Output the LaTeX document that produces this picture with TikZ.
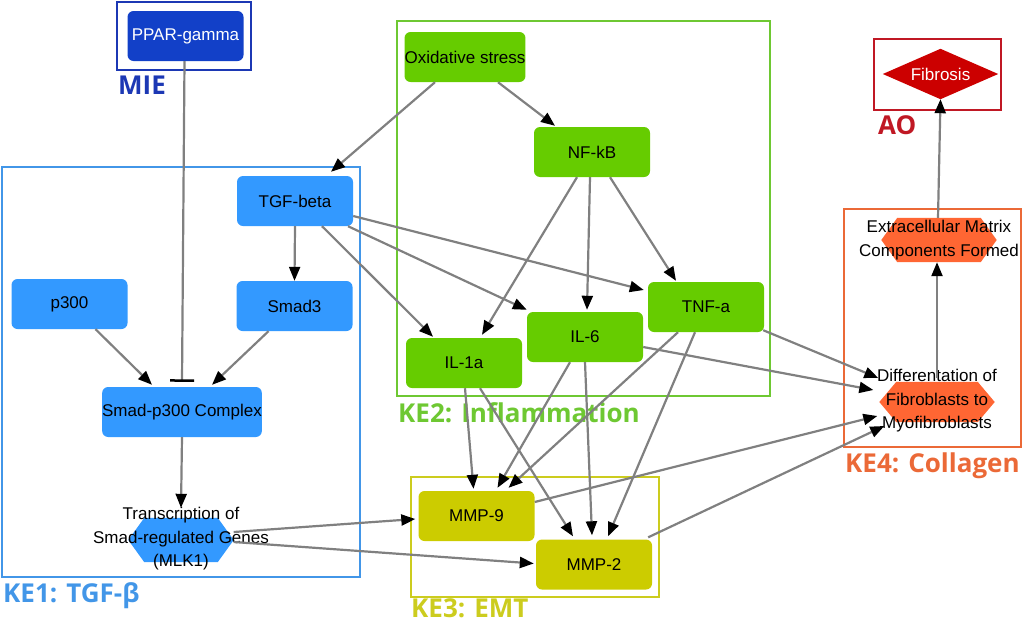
\documentclass[tikz,border=0pt]{standalone}
\usepackage{fontspec}
\setmainfont{Liberation Sans}
\newfontfamily\labfont{Open Sans}
\usetikzlibrary{arrows.meta}
\definecolor{edgegray}{RGB}{128,128,128}
\definecolor{kebluefill}{RGB}{51,153,255}
\definecolor{keblueline}{RGB}{66,150,232}
\definecolor{miefill}{RGB}{18,64,200}
\definecolor{mieline}{RGB}{28,56,180}
\definecolor{kegreenfill}{RGB}{102,204,0}
\definecolor{kegreenline}{RGB}{110,200,50}
\definecolor{keolivefill}{RGB}{204,204,0}
\definecolor{keoliveline}{RGB}{204,204,30}
\definecolor{keorangefill}{RGB}{255,102,51}
\definecolor{keorangeline}{RGB}{235,105,55}
\definecolor{aofill}{RGB}{204,0,0}
\definecolor{aoline}{RGB}{192,24,36}
\newcommand\myhex[3]{\fill[#3] (#1.west) -- ([xshift=#2]#1.north west) -- ([xshift=-#2]#1.north east) -- (#1.east) -- ([xshift=-#2]#1.south east) -- ([xshift=#2]#1.south west) -- cycle;}
\tikzset{
  nodefont/.style={font=\fontsize{17}{23.5}\selectfont},
  box/.style={rectangle, rounded corners=6pt, minimum width=116pt, minimum height=50pt, inner sep=0pt, nodefont, text=black},
  blank/.style={rectangle, inner sep=0pt},
  txt/.style={inner sep=0pt, align=center, nodefont, text=black},
  frame/.style={line width=2pt},
  lab/.style={anchor=base west, inner sep=0pt, font=\labfont\bfseries\fontsize{26}{30}\selectfont},
  edge/.style={draw=edgegray, line width=2.2pt, -{Triangle[length=14pt,width=11pt,color=black]}},
  inh/.style={draw=edgegray, line width=2.2pt, -{Bar[width=24pt,line width=2.5pt,color=black]}}
}
\begin{document}
\begin{tikzpicture}[x=1pt,y=-1pt]
\useasboundingbox (0,0) rectangle (1024,624);
% frames
\draw[frame, mieline, line width=2.5pt] (117,2) rectangle (251,70);
\draw[frame, keblueline] (2,167) rectangle (360,577);
\draw[frame, kegreenline] (397,21) rectangle (770,396);
\draw[frame, keoliveline] (411,477) rectangle (659,597);
\draw[frame, keorangeline] (844,209) rectangle (1021,447);
\draw[frame, aoline, line width=2.5pt] (874,39) rectangle (1001,110);
% frame labels
\node[lab, text=mieline] (lmie) at (118,94) {MIE};
\node[lab, text=keblueline] (lke1) at (3,602) {KE1: TGF-β};
\node[lab, text=kegreenline] (lke2) at (398,422) {KE2: Inflammation};
\node[lab, text=keoliveline] (lke3) at (411,617) {KE3: EMT};
\node[lab, text=keorangeline] (lke4) at (845,472) {KE4: Collagen};
\node[lab, text=aoline] (lao) at (878,134) {AO};
% nodes
\node[box, fill=miefill, text=white] (ppar) at (185.5,36) {PPAR-gamma};
\node[box, fill=kebluefill] (tgf) at (295,201) {TGF-beta};
\node[box, fill=kebluefill] (smad3) at (294.5,306) {Smad3};
\node[box, fill=kebluefill] (p300) at (69.5,304) {p300};
\node[box, fill=kebluefill] (cplx) at (182,412) {Smad-p300 Complex};
\node[box, fill=kegreenfill] (oxs) at (465,57) {Oxidative stress};
\node[box, fill=kegreenfill] (nfkb) at (592,152) {NF-kB};
\node[box, fill=kegreenfill] (tnf) at (706,307) {TNF-a};
\node[box, fill=kegreenfill] (il6) at (585,337) {IL-6};
\node[box, fill=kegreenfill] (il1a) at (464,363) {IL-1a};
\node[box, fill=keolivefill] (mmp9) at (476.5,516) {MMP-9};
\node[box, fill=keolivefill] (mmp2) at (594,564.5) {MMP-2};
% hexagons
\node[blank, minimum width=105pt, minimum height=44pt] (tr) at (181,540) {};
\myhex{tr}{16pt}{kebluefill}
\node[txt] (trt) at (181,539) {Transcription of\\Smad-regulated Genes\\(MLK1)};
\node[blank, minimum width=115pt, minimum height=44pt] (ecm) at (939,240) {};
\myhex{ecm}{16pt}{keorangefill}
\node[txt] (ecmt) at (939,240) {Extracellular Matrix\\Components Formed};
\node[blank, minimum width=115pt, minimum height=40pt] (diff) at (937,402) {};
\myhex{diff}{17pt}{keorangefill}
\node[txt] (difft) at (937,401) {Differentation of\\Fibroblasts to\\Myofibroblasts};
% diamond
\node[blank, minimum width=115pt, minimum height=50pt] (fib) at (940.5,74) {};
\fill[aofill] (fib.west) -- (fib.north) -- (fib.east) -- (fib.south) -- cycle;
\node[txt, text=white] (fibt) at (fib) {Fibrosis};
% edges
\draw[inh] ([shift={(-1,0)}]ppar.south) -- ([shift={(0,-5)}]cplx.north);
\draw[edge] ([shift={(-30,0)}]oxs.south) -- ([shift={(36,-4)}]tgf.north);
\draw[edge] ([shift={(33,0)}]oxs.south) -- ([shift={(-37,-1)}]nfkb.north);
\draw[edge] (tgf.south) -- (smad3.north);
\draw[edge] ([shift={(26,0)}]p300.south) -- ([shift={(-30,-2)}]cplx.north);
\draw[edge] ([shift={(-26,0)}]smad3.south) -- ([shift={(30,-2)}]cplx.north);
\draw[edge] (cplx.south) -- ([shift={(0,-10)}]tr.north);
\draw[edge] ([shift={(27,0)}]tgf.south) -- ([shift={(-31,-1)}]il1a.north);
\draw[edge] ([shift={(53,0)}]tgf.south) -- ([shift={(0,-2)}]il6.north west);
\draw[edge] ([shift={(0,15)}]tgf.east) -- ([shift={(-4,-17)}]tnf.west);
\draw[edge] ([shift={(-15,0)}]nfkb.south) -- ([shift={(18,-3)}]il1a.north);
\draw[edge] ([shift={(-2,0)}]nfkb.south) -- ([shift={(2,-2)}]il6.north);
\draw[edge] ([shift={(18,0)}]nfkb.south) -- ([shift={(-30,-1)}]tnf.north);
\draw[edge] ([shift={(1,0)}]il1a.south) -- ([shift={(-3,-2)}]mmp9.north);
\draw[edge] ([shift={(16,0)}]il1a.south) -- ([shift={(-21,-3)}]mmp2.north);
\draw[edge] ([shift={(-15,0)}]il6.south) -- ([shift={(21,-3)}]mmp9.north);
\draw[edge] (il6.south) -- ([shift={(-2,-4)}]mmp2.north);
\draw[edge] ([shift={(-28,0)}]tnf.south) -- ([shift={(32,-3)}]mmp9.north);
\draw[edge] ([shift={(-11,0)}]tnf.south) -- ([shift={(14,-3)}]mmp2.north);
\draw[edge] ([shift={(0,-8)}]tr.east) -- ([shift={(-3,3)}]mmp9.west);
\draw[edge] ([shift={(0,2)}]tr.east) -- ([shift={(-2,-1)}]mmp2.west);
\draw[edge] ([shift={(-1,-2)}]tnf.south east) -- ([shift={(-1,-24)}]diff.west);
\draw[edge] ([shift={(0,10)}]il6.east) -- ([shift={(-6,-12)}]diff.west);
\draw[edge] ([shift={(0,-14)}]mmp9.east) -- ([shift={(-2,14)}]diff.west);
\draw[edge] ([shift={(-4,-2)}]mmp2.north east) -- ([shift={(5,24)}]diff.west);
\draw[edge] ([shift={(0,-4)}]diff.north) -- ([shift={(-2,0)}]ecm.south);
\draw[edge] ([shift={(-1,0)}]ecm.north) -- (fib.south);
\end{tikzpicture}
\end{document}
